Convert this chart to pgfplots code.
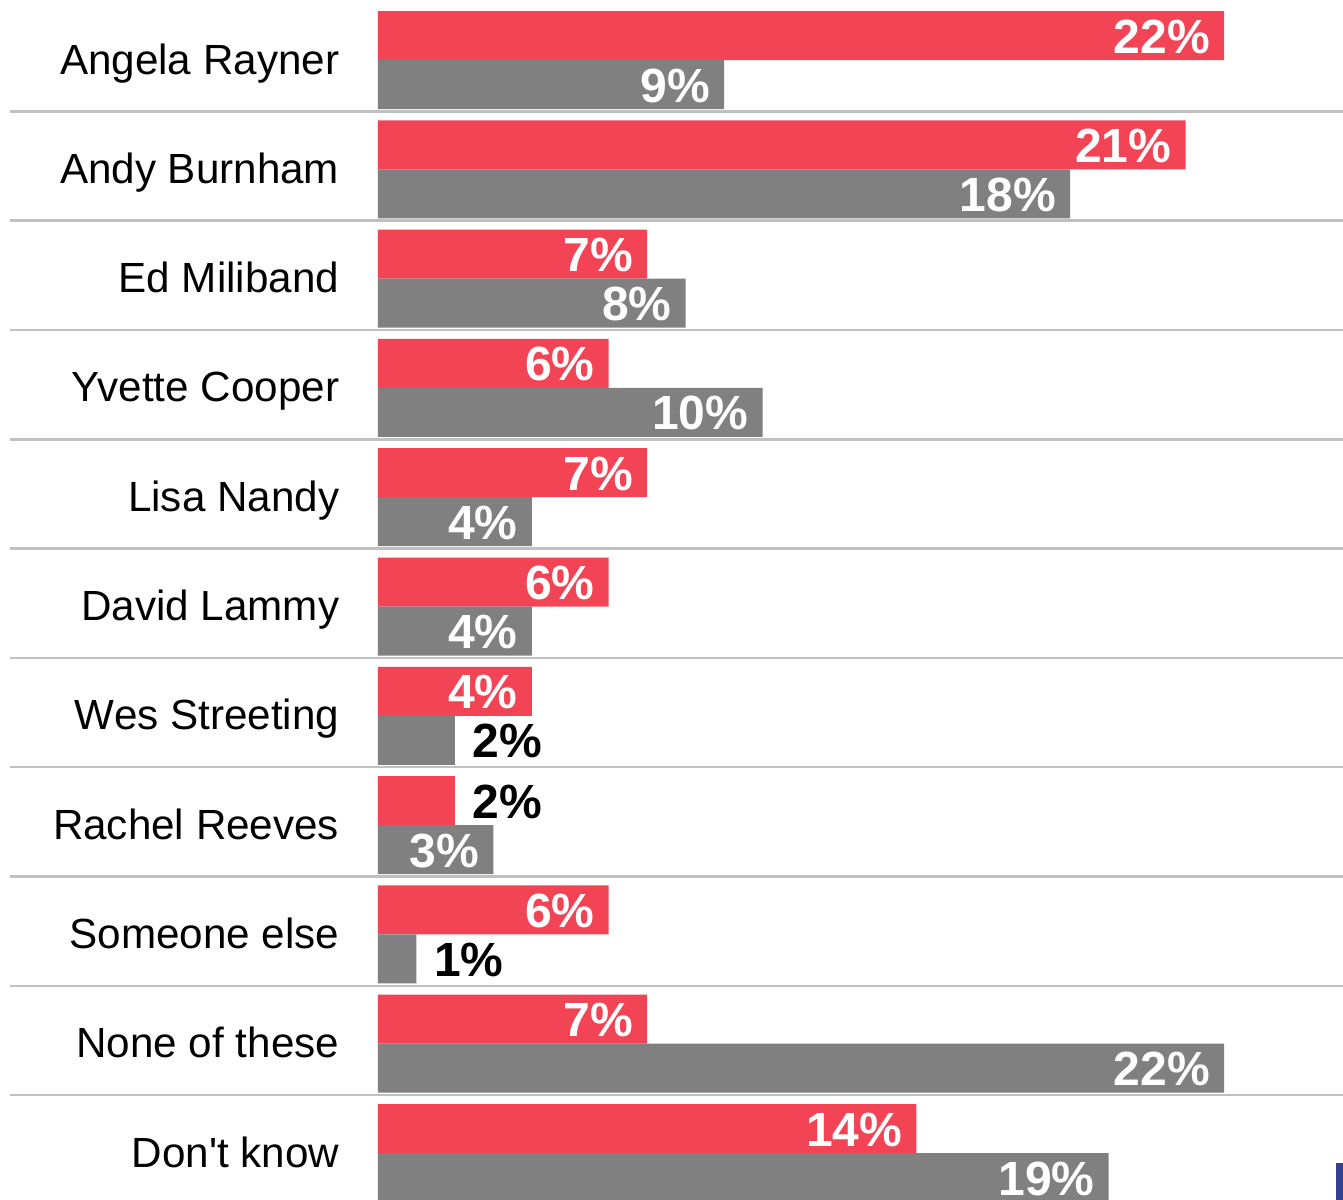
\documentclass[border=0pt]{standalone}
\usepackage{pgfplots}
\pgfplotsset{compat=1.18}
\usepackage{fontspec}
\setmainfont{Liberation Sans}
\newlength\pxu \setlength\pxu{0.25pt}
\definecolor{barred}{HTML}{F24455}
\definecolor{bargray}{HTML}{808080}
\definecolor{sepgray}{HTML}{C0C0C0}
\definecolor{logoblue}{HTML}{35408F}
\newcommand\lbl[1]{\pgfmathprintnumber[fixed,precision=0,assume math mode=true]{#1}\%}
\begin{document}
\begin{tikzpicture}
\useasboundingbox (0,0) rectangle (1343\pxu,1200\pxu);
\begin{axis}[
  at={(378\pxu,0)}, anchor=south west,
  width=965\pxu, height=1200\pxu, scale only axis,
  xmin=0, xmax=25.094, ymin=-0.549, ymax=10.430, y dir=reverse,
  xbar, bar width=0.4483,
  axis line style={draw=none}, tick style={draw=none}, major tick length=0pt,
  xtick=\empty, ytick={0,...,10},
  yticklabels={Angela Rayner, Andy Burnham, Ed Miliband, Yvette Cooper, Lisa Nandy, David Lammy, Wes Streeting, Rachel Reeves, Someone else, None of these, Don\textquotesingle t know},
  yticklabel style={anchor=base east, inner sep=0pt, xshift=-38\pxu, yshift=-14\pxu, font=\fontsize{10.55}{12}\selectfont},
  clip=false,
  visualization depends on={rawx \as \rawxval},
  nodes near coords={\ifdim\rawxval pt>2.5pt\llap{\textcolor{white}{\lbl{\rawxval}}\hspace{17\pxu}}\else\hspace{17\pxu}\textcolor{black}{\lbl{\rawxval}}\fi},
  every node near coord/.append style={anchor=base west, inner sep=0pt, yshift=-17.5\pxu, font=\fontsize{12}{14}\selectfont\bfseries},
]
\pgfplotsinvokeforeach{0,...,9}{
  \draw[sepgray, line width=2.5\pxu] (axis cs:-9.57,#1+0.47) -- (axis cs:25.094,#1+0.47);
}
\addplot[fill=barred, draw=none, bar shift=-0.2242] coordinates {
  (22,0) (21,1) (7,2) (6,3) (7,4) (6,5) (4,6) (2,7) (6,8) (7,9) (14,10)
};
\addplot[fill=bargray, draw=none, bar shift=0.2242] coordinates {
  (9,0) (18,1) (8,2) (10,3) (4,4) (4,5) (2,6) (3,7) (1,8) (22,9) (19,10)
};
\end{axis}
\fill[logoblue] (1336\pxu,0) rectangle (1343\pxu,37\pxu);
\end{tikzpicture}
\end{document}
